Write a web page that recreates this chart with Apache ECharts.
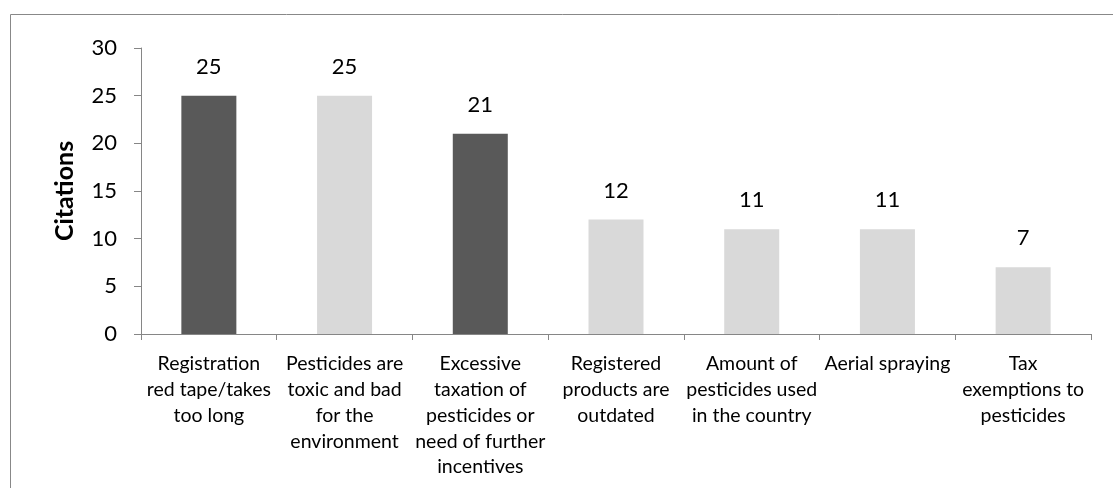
<!DOCTYPE html>
<html><head><meta charset="utf-8">
<script src="https://cdn.jsdelivr.net/npm/echarts@6/dist/echarts.min.js"></script>
<style>html,body{margin:0;padding:0;background:#fff}#c{width:1113px;height:488px}</style>
</head><body><div id="c"></div>
<script>
const categories = [
  "Registration\nred tape/takes\ntoo long",
  "Pesticides are\ntoxic and bad\nfor the\nenvironment",
  "Excessive\ntaxation of\npesticides or\nneed of further\nincentives",
  "Registered\nproducts are\noutdated",
  "Amount of\npesticides used\nin the country",
  "Aerial spraying",
  "Tax\nexemptions to\npesticides"
];
const citations = [25, 25, 21, 12, 11, 11, 7];
const highlighted = [true, false, true, false, false, false, false];
const yTicks = [0, 5, 10, 15, 20, 25, 30];
const yTitle = "Citations";

const FONT = "Lato, 'Open Sans', sans-serif";
const chart = echarts.init(document.getElementById('c'));
chart.setOption({
  animation: false,
  textStyle: { fontFamily: FONT },
  graphic: [{
    type: 'rect', left: 8, top: 12, silent: true,
    shape: { width: 1200, height: 600 },
    style: { fill: 'none', stroke: '#888', lineWidth: 1 }
  }],
  grid: { left: 141, right: 22, top: 48, bottom: 154 },
  xAxis: {
    type: 'category', data: categories,
    axisLine: { lineStyle: { color: '#868686', width: 1 } },
    axisTick: { show: true, alignWithLabel: false, length: 6, lineStyle: { color: '#868686' } },
    axisLabel: { color: '#000', fontSize: 19.5, lineHeight: 25.8, margin: 17, interval: 0, fontFamily: FONT }
  },
  yAxis: {
    type: 'value', min: yTicks[0], max: yTicks[yTicks.length - 1], interval: 5,
    name: yTitle, nameLocation: 'middle', nameGap: 64, nameRotate: 90,
    nameTextStyle: { color: '#000', fontSize: 25, fontWeight: 'bold', fontFamily: FONT },
    axisLine: { show: true, lineStyle: { color: '#868686', width: 1 } },
    axisTick: { show: true, length: 7, lineStyle: { color: '#868686' } },
    splitLine: { show: false },
    axisLabel: { color: '#000', fontSize: 22, margin: 24, fontFamily: FONT }
  },
  series: [{
    type: 'bar',
    data: citations.map((v, i) => ({ value: v, itemStyle: { color: highlighted[i] ? '#595959' : '#d9d9d9' } })),
    barWidth: 55,
    label: { show: true, position: 'top', distance: 18, color: '#000', fontSize: 22, fontFamily: FONT }
  }]
});
</script></body></html>
